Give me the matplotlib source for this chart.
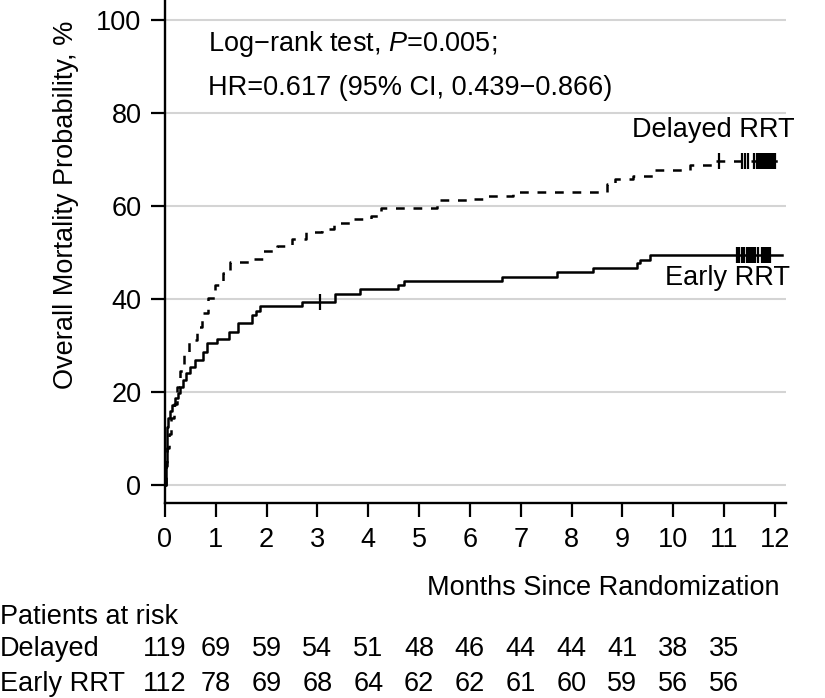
import numpy as np
import matplotlib
matplotlib.use("Agg")
import matplotlib.pyplot as plt
from matplotlib.transforms import blended_transform_factory

plt.rcParams['font.family'] = ['Liberation Sans', 'DejaVu Sans']
plt.rcParams['mathtext.fontset'] = 'custom'
plt.rcParams['mathtext.rm'] = 'Liberation Sans'
plt.rcParams['mathtext.it'] = 'Liberation Sans:italic'

FS = 19.5

# Kaplan-Meier cumulative mortality, %
delayed_t = [0, 0.02, 0.04, 0.07, 0.12, 0.18, 0.24, 0.30, 0.38, 0.48, 0.62, 0.73,
             0.85, 0.98, 1.15, 1.27, 1.70, 1.92, 2.20, 2.50, 2.78, 3.08, 3.33,
             3.68, 4.05, 4.25, 5.35, 6.05, 6.35, 6.85, 8.70, 8.85, 9.20, 9.65,
             10.33, 10.80, 12.15]
delayed_y = [0, 4, 8, 11, 14.5, 17.5, 21, 24.5, 28.2, 31.2, 34, 37,
             40.2, 43, 45.6, 48, 48.6, 50.3, 51.3, 52.8, 54.3, 55.1, 56.3,
             57.2, 57.9, 59.6, 61.2, 61.6, 62.2, 63.1, 64.8, 65.8, 66.5, 67.7,
             68.8, 69.7, 69.7]

early_t = [0, 0.01, 0.03, 0.06, 0.10, 0.14, 0.20, 0.25, 0.30, 0.35, 0.41, 0.49,
           0.59, 0.75, 0.82, 1.02, 1.25, 1.44, 1.71, 1.80, 1.87, 2.69, 3.35,
           3.84, 4.59, 4.70, 6.63, 7.72, 8.43, 9.29, 9.35, 9.55, 12.15]
early_y = [0, 5, 12.5, 14.5, 16, 17.2, 18.7, 19.8, 21, 22.6, 24, 25.3,
           26.9, 28.6, 30.5, 31.5, 33.0, 34.8, 36.6, 37.5, 38.5, 39.4, 41.1,
           42.1, 43.0, 43.9, 44.8, 45.7, 46.6, 47.7, 48.4, 49.4, 49.4]

# censored observations (months)
delayed_cens = [10.9, 11.35, 11.42, 11.48, 11.6, 11.64, 11.68, 11.72, 11.76,
                11.8, 11.84, 11.88, 11.92, 11.96, 12.0]
early_cens = [3.05, 11.25, 11.3, 11.35, 11.4, 11.45, 11.5, 11.54, 11.58,
              11.62, 11.66, 11.75, 11.79, 11.83, 11.87, 11.9]

months = list(range(13))
risk_months = list(range(12))
risk_delayed = [119, 69, 59, 54, 51, 48, 46, 44, 44, 41, 38, 35]
risk_early = [112, 78, 69, 68, 64, 62, 62, 61, 60, 59, 56, 56]


def step_value(t, ts, ys):
    i = np.searchsorted(ts, t, side='right') - 1
    return np.asarray(ys)[i]


fig = plt.figure(figsize=(8.25, 6.98), dpi=100)
ax = fig.add_axes([0.2, 0.2794, 0.7527, 0.7206])

for y in range(0, 101, 20):
    ax.axhline(y, color='#d4d4d4', lw=1.5, zorder=0)

ax.step(delayed_t, delayed_y, where='post', color='black', lw=1.8,
        linestyle=(0, (3.5, 3.5)))
ax.step(early_t, early_y, where='post', color='black', lw=1.8)

ax.plot(delayed_cens, step_value(delayed_cens, delayed_t, delayed_y), ls='none',
        marker='|', ms=11, mew=1.6, color='black')
ax.plot(early_cens, step_value(early_cens, early_t, early_y), ls='none',
        marker='|', ms=11, mew=1.6, color='black')

ax.set_xlim(0, 12.22)
ax.set_ylim(-3.87, 104.3)
ax.set_xticks(months)
ax.set_yticks(range(0, 101, 20))
ax.tick_params(axis='both', labelsize=FS, width=1.6, length=10, pad=7,
               direction='out', color='black')
for s in ['top', 'right']:
    ax.spines[s].set_visible(False)
for s in ['left', 'bottom']:
    ax.spines[s].set_linewidth(1.7)

ax.text(0.85, 94.8, 'Log\u2212rank test, $P$=0.005;', fontsize=FS, va='center')
ax.text(0.85, 85.4, 'HR=0.617 (95% CI, 0.439\u22120.866)', fontsize=FS, va='center')
ax.text(12.4, 76.3, 'Delayed RRT', fontsize=FS, va='center', ha='right',
        clip_on=False)
ax.text(12.3, 44.5, 'Early RRT', fontsize=FS, va='center', ha='right',
        clip_on=False)

fig.text(66 / 825, 1 - 205 / 698, 'Overall Mortality Probability, %', rotation=90,
         fontsize=FS, ha='center', va='center')

trans = blended_transform_factory(ax.transAxes, fig.transFigure)
ax.text(0.99, 1 - 588 / 698, 'Months Since Randomization', transform=trans,
        fontsize=FS, ha='right', va='center')

fig.text(0.0, 1 - 617 / 698, 'Patients at risk', fontsize=FS, va='center')
fig.text(0.0, 1 - 649 / 698, 'Delayed', fontsize=FS, va='center')
fig.text(0.0, 1 - 684 / 698, 'Early RRT', fontsize=FS, va='center')

rt = blended_transform_factory(ax.transData, fig.transFigure)
for m, a, b in zip(risk_months, risk_delayed, risk_early):
    ax.text(m, 1 - 649 / 698, str(a), transform=rt, fontsize=FS, ha='center',
            va='center', clip_on=False)
    ax.text(m, 1 - 684 / 698, str(b), transform=rt, fontsize=FS, ha='center',
            va='center', clip_on=False)

fig.savefig('out.png', dpi=100)
